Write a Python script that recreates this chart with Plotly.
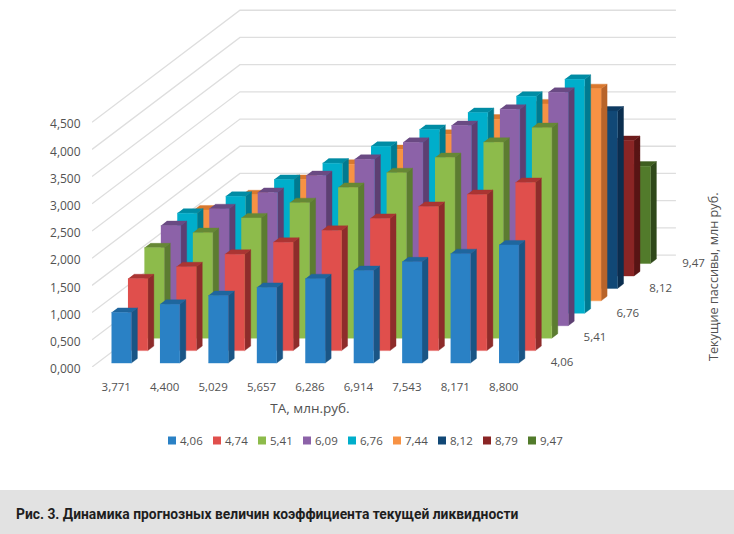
import plotly.graph_objects as go

# ---- data ----
TA_LABELS = ["3,771", "4,400", "5,029", "5,657", "6,286", "6,914", "7,543", "8,171", "8,800"]
SERIES_NAMES = ["4,06", "4,74", "5,41", "6,09", "6,76", "7,44", "8,12", "8,79", "9,47"]
DEPTH_LABELS = ["4,06", "", "5,41", "", "6,76", "", "8,12", "", "9,47"]
Y_TICKS = [0, 0.5, 1, 1.5, 2, 2.5, 3, 3.5, 4, 4.5]
Y_LABELS = ["0,000", "0,500", "1,000", "1,500", "2,000", "2,500", "3,000", "3,500", "4,000", "4,500"]

s_406 = [0.93, 1.08, 1.24, 1.39, 1.55, 1.70, 1.86, 2.01, 2.17]
s_474 = [1.32, 1.54, 1.77, 1.99, 2.21, 2.43, 2.65, 2.87, 3.09]
s_541 = [1.66, 1.94, 2.21, 2.49, 2.77, 3.04, 3.32, 3.60, 3.87]
s_609 = [1.84, 2.15, 2.45, 2.76, 3.06, 3.37, 3.68, 3.98, 4.29]
s_676 = [1.84, 2.15, 2.46, 2.76, 3.07, 3.38, 3.69, 3.99, 4.30]
s_744 = [1.67, 1.95, 2.23, 2.51, 2.78, 3.06, 3.34, 3.62, 3.90]
s_812 = [1.40, 1.63, 1.86, 2.09, 2.33, 2.56, 2.79, 3.02, 3.26]
s_879 = [1.07, 1.25, 1.42, 1.60, 1.78, 1.96, 2.13, 2.31, 2.49]
s_947 = [0.77, 0.89, 1.02, 1.15, 1.28, 1.40, 1.53, 1.66, 1.79]
SERIES = [s_406, s_474, s_541, s_609, s_676, s_744, s_812, s_879, s_947]

FRONT = ["#2A81C5", "#E04F4C", "#8DBB4B", "#8C62A8", "#00AECB", "#F79244", "#114876", "#8A2525", "#527B2B"]
SIDE = ["#1A5585", "#8E2C2B", "#5C7C31", "#5D3F72", "#007A90", "#B8642A", "#0B2E4F", "#581414", "#2F481A"]
TOP = ["#1F669E", "#AA3533", "#668835", "#6A4A83", "#008CA4", "#D9782E", "#0E3B62", "#6E1C1C", "#3F5E20"]

# ---- oblique projection of the depth axis onto the 2D axes ----
W, H = 734, 534
X_PX, Y_PX = 92, 367          # pixel position of the floor's front-left corner
UNIT_X, UNIT_Y = 48.44, 54.4  # pixels per category / per value unit
DX, DY = 16.44 / UNIT_X, 12.44 / UNIT_Y   # shift per depth step
BAR_W, BAR_D = 0.41, 0.365
GRID = "#DEDEDE"
TXT = "#525252"
FONT = "Open Sans"


def px(x, d):
    return x + d * DX


def py(v, d):
    return v + d * DY


def poly(pts):
    return [px(x, d) for x, d, v in pts] + [None], [py(v, d) for x, d, v in pts] + [None]


fig = go.Figure()
nd = len(SERIES)
nc = len(TA_LABELS)

# walls
gx, gy = [], []
for t in Y_TICKS:
    gx += [px(0, 0), px(0, nd), px(nc, nd), None]
    gy += [py(t, 0), py(t, nd), py(t, nd), None]
fig.add_trace(go.Scatter(x=gx, y=gy, mode="lines", line=dict(color=GRID, width=1.3),
                         hoverinfo="skip", showlegend=False))

# bars, back to front
for s in range(nd - 1, -1, -1):
    d0 = s + 0.5 - BAR_D / 2
    d1 = s + 0.5 + BAR_D / 2
    faces = {"side": ([], []), "top": ([], []), "front": ([], [])}
    for c, v in enumerate(SERIES[s]):
        x0 = c + 0.5 - BAR_W / 2
        x1 = c + 0.5 + BAR_W / 2
        quads = {
            "side": [(x1, d0, 0), (x1, d1, 0), (x1, d1, v), (x1, d0, v)],
            "top": [(x0, d0, v), (x1, d0, v), (x1, d1, v), (x0, d1, v)],
            "front": [(x0, d0, 0), (x1, d0, 0), (x1, d0, v), (x0, d0, v)],
        }
        for k, pts in quads.items():
            a, b = poly(pts)
            faces[k][0].extend(a)
            faces[k][1].extend(b)
    for k, col in (("side", SIDE[s]), ("top", TOP[s]), ("front", FRONT[s])):
        fig.add_trace(go.Scatter(x=faces[k][0], y=faces[k][1], mode="lines", fill="toself",
                                 fillcolor=col, line=dict(color=col, width=0.4),
                                 name=SERIES_NAMES[s], showlegend=False, hoverinfo="skip"))

# depth-axis labels
dl = [(s, t) for s, t in enumerate(DEPTH_LABELS) if t]
fig.add_trace(go.Scatter(x=[px(nc, s + 0.5) + 0.30 for s, t in dl],
                         y=[py(0, s + 0.5) - 0.05 for s, t in dl],
                         text=[t for s, t in dl], mode="text", textposition="middle right",
                         textfont=dict(family=FONT, size=11.5, color=TXT),
                         hoverinfo="skip", showlegend=False))

# carries the category axis, whose span is the floor's front edge
fig.add_trace(go.Scatter(x=[i + 0.5 for i in range(nc)], y=[None] * nc, xaxis="x2", mode="lines",
                         hoverinfo="skip", showlegend=False))

shapes = [dict(type="rect", xref="paper", yref="paper", x0=0, x1=1, y0=0, y1=44 / H,
               fillcolor="#E2E2E2", line_width=0, layer="below")]
annots = [
    dict(text="Рис. 3. Динамика прогнозных величин коэффициента текущей ликвидности",
         xref="paper", yref="paper", x=14 / W, y=(H - 514) / H, xanchor="left", yanchor="middle",
         showarrow=False,
         font=dict(family="Roboto", size=13.85, color="#1E1E1E", weight="bold")),
    dict(text="Текущие пассивы, млн руб.", xref="paper", yref="paper", x=724 / W, y=(H - 277) / H,
         textangle=-90, showarrow=False, font=dict(family=FONT, size=12.7, color=TXT)),
]
# compact key under the plot
for i, name in enumerate(SERIES_NAMES):
    cx = 172 + 45 * i
    shapes.append(dict(type="rect", xref="paper", yref="paper",
                       x0=(cx - 4) / W, x1=(cx + 4) / W,
                       y0=(H - 444.5) / H, y1=(H - 436.5) / H,
                       fillcolor=FRONT[i], line_width=0))
    annots.append(dict(text=name, xref="paper", yref="paper", x=(cx + 6) / W, y=(H - 440.5) / H,
                       xanchor="left", yanchor="middle", showarrow=False,
                       font=dict(family=FONT, size=11.5, color=TXT)))

fig.update_layout(
    width=W, height=H, autosize=False,
    margin=dict(l=0, r=0, t=0, b=0, autoexpand=False),
    paper_bgcolor="white", plot_bgcolor="rgba(0,0,0,0)",
    showlegend=False,
    xaxis=dict(domain=[X_PX / W, 1], range=[0, (W - X_PX) / UNIT_X], visible=False, fixedrange=True),
    xaxis2=dict(domain=[X_PX / W, (X_PX + UNIT_X * nc) / W], range=[0, nc], anchor="y",
                tickmode="array", tickvals=[i + 0.5 for i in range(nc)], ticktext=TA_LABELS,
                showgrid=False, zeroline=False, showline=False,
                ticks="outside", ticklen=9, tickcolor="rgba(0,0,0,0)",
                tickfont=dict(family=FONT, size=11.5, color=TXT),
                title=dict(text="ТА, млн.руб.", standoff=10,
                           font=dict(family=FONT, size=13.5, color=TXT)),
                fixedrange=True),
    yaxis=dict(domain=[(H - Y_PX) / H, 1], range=[0, Y_PX / UNIT_Y],
               tickmode="array", tickvals=Y_TICKS, ticktext=Y_LABELS,
               showgrid=False, zeroline=False, showline=False,
               ticks="outside", ticklen=8, tickcolor="rgba(0,0,0,0)",
               ticklabelshift=2,
               tickfont=dict(family=FONT, size=12, color=TXT),
               fixedrange=True),
    shapes=shapes, annotations=annots,
)
fig.write_html("out.html", config=dict(displayModeBar=False),
               post_script="document.body.style.margin='0';document.documentElement.style.overflow='hidden';")
